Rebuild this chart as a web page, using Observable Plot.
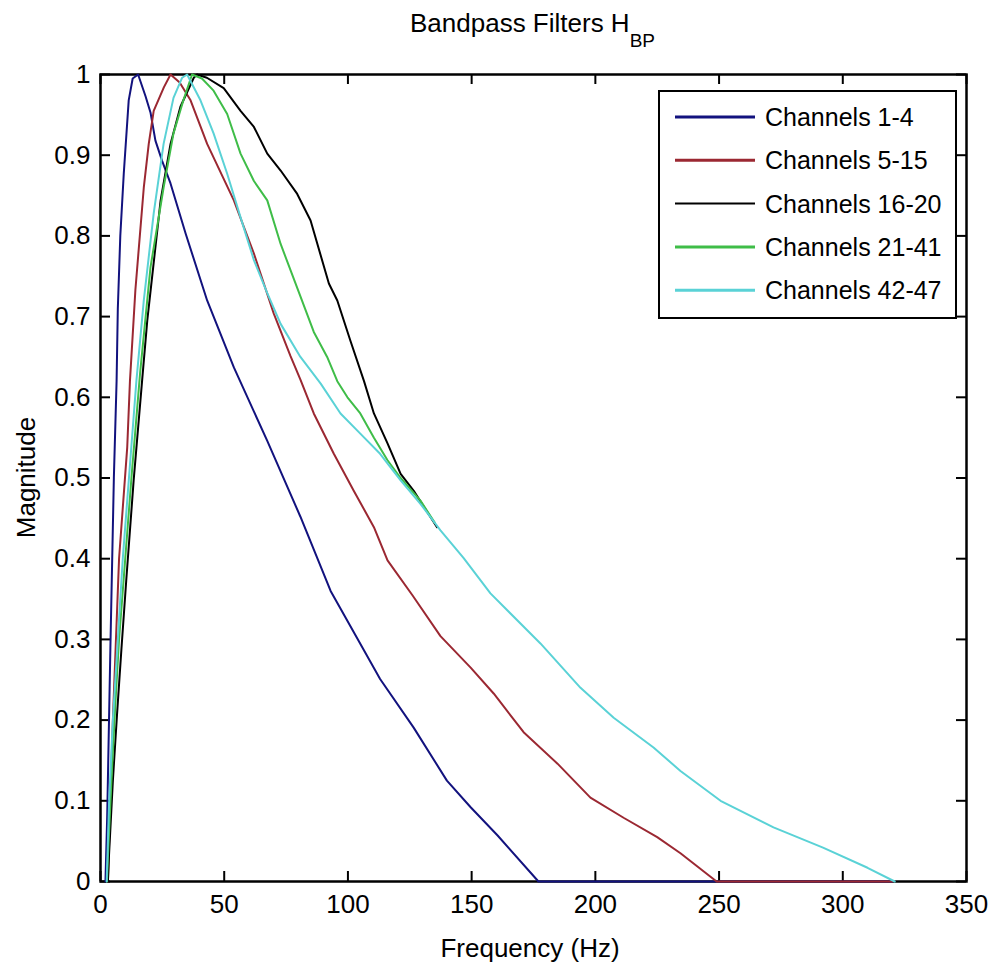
<!DOCTYPE html>
<html>
<head>
<meta charset="utf-8">
<script src="https://cdn.jsdelivr.net/npm/d3@7"></script>
<script src="https://cdn.jsdelivr.net/npm/@observablehq/plot@0.6"></script>
<style>
  html, body { margin: 0; padding: 0; background: #fff; }
  #chart svg { display: block; }
</style>
</head>
<body>
<div id="chart"></div>
<script>
// ---- data ----
const categories = ["Channels 1-4", "Channels 5-15", "Channels 16-20", "Channels 21-41", "Channels 42-47"];
const colors = ["#12127e", "#9b2832", "#000000", "#3fbd48", "#5ad2d6"];

const ch1_4_f = [2, 2.7, 4, 5.4, 6.5, 7, 8, 9.4, 11.4, 13, 15.2, 18.2, 20.2, 22.2, 24.9, 28.3, 34.4, 43.1, 53.9, 67.4, 80.8, 93, 113, 126.5, 140, 149.6, 160.5, 177, 200, 250, 320];
const ch1_4_m = [0, 0.08, 0.29, 0.5, 0.62, 0.71, 0.8, 0.877, 0.968, 0.995, 1, 0.973, 0.953, 0.918, 0.893, 0.865, 0.803, 0.72, 0.637, 0.546, 0.452, 0.36, 0.251, 0.191, 0.125, 0.092, 0.057, 0, 0, 0, 0];

const ch5_15_f = [3, 5, 7.5, 10.8, 11.9, 14.1, 17.5, 19.5, 21.5, 25.6, 28.3, 32, 36.4, 43.1, 53.9, 62, 70, 76.8, 80.8, 86.2, 94.3, 102.4, 110.5, 116, 126, 137.4, 149.6, 158.9, 171, 184.7, 198, 211.4, 225, 234.4, 249, 320];
const ch5_15_m = [0, 0.2, 0.4, 0.538, 0.62, 0.733, 0.86, 0.914, 0.955, 0.984, 1, 0.99, 0.968, 0.914, 0.844, 0.778, 0.704, 0.651, 0.622, 0.58, 0.53, 0.484, 0.439, 0.398, 0.355, 0.304, 0.265, 0.233, 0.185, 0.146, 0.104, 0.079, 0.055, 0.035, 0, 0];

const ch16_20_f = [3, 3.4, 5, 6.7, 8.5, 10.4, 13.4, 16.8, 18.9, 24.3, 28.3, 32.3, 37.7, 39, 43, 49.8, 56.6, 62, 67.4, 72.8, 79.5, 84.9, 92.3, 95.7, 101, 106.5, 110.5, 116, 121.3, 126.6, 136];
const ch16_20_m = [0, 0.03, 0.125, 0.208, 0.29, 0.373, 0.497, 0.62, 0.695, 0.844, 0.914, 0.96, 0.996, 1, 0.996, 0.983, 0.955, 0.935, 0.902, 0.881, 0.852, 0.819, 0.741, 0.72, 0.67, 0.62, 0.58, 0.543, 0.505, 0.484, 0.439];

const ch21_41_f = [2.6, 3, 4.5, 6, 7.5, 9.5, 12.5, 16, 20.2, 25.5, 29.5, 33.5, 37, 41, 45.7, 51.2, 56.6, 62, 67.4, 72.8, 80.8, 86.2, 91.6, 95.7, 99.8, 105, 110.5, 116, 121.3, 129.3, 135];
const ch21_41_m = [0, 0.03, 0.13, 0.22, 0.3, 0.38, 0.5, 0.63, 0.761, 0.86, 0.927, 0.968, 1, 0.995, 0.98, 0.951, 0.902, 0.868, 0.844, 0.79, 0.725, 0.681, 0.65, 0.62, 0.6, 0.58, 0.55, 0.522, 0.5, 0.472, 0.445];

const ch42_47_f = [2.5, 3.5, 5, 7, 9, 11.5, 14.5, 17.5, 21.5, 25.5, 29.5, 33, 35, 40.4, 45.7, 51.2, 56.6, 62, 67.4, 72.8, 80.8, 89, 97, 105, 113, 121.3, 129.3, 137.4, 146.7, 157.6, 177.8, 194, 207.4, 223.5, 234.4, 250.6, 272, 292, 310, 321];
const ch42_47_m = [0, 0.1, 0.2, 0.3, 0.4, 0.5, 0.62, 0.72, 0.828, 0.914, 0.971, 0.996, 1, 0.968, 0.927, 0.877, 0.823, 0.77, 0.729, 0.691, 0.65, 0.617, 0.58, 0.555, 0.53, 0.497, 0.468, 0.435, 0.401, 0.357, 0.295, 0.24, 0.203, 0.166, 0.137, 0.1, 0.067, 0.042, 0.017, 0];

const xTicks = [0, 50, 100, 150, 200, 250, 300, 350];
const yTicks = [0, 0.1, 0.2, 0.3, 0.4, 0.5, 0.6, 0.7, 0.8, 0.9, 1];
const yTickLabels = ["0", "0.1", "0.2", "0.3", "0.4", "0.5", "0.6", "0.7", "0.8", "0.9", "1"];

const titleMain = "Bandpass Filters H";
const titleSub = "BP";
const xLabel = "Frequency (Hz)";
const yLabel = "Magnitude";

// ---- build table ----
const seriesF = [ch1_4_f, ch5_15_f, ch16_20_f, ch21_41_f, ch42_47_f];
const seriesM = [ch1_4_m, ch5_15_m, ch16_20_m, ch21_41_m, ch42_47_m];
const rows = [];
categories.forEach((c, i) => {
  seriesF[i].forEach((f, j) => rows.push({series: c, f, m: seriesM[i][j]}));
});

// ---- layout ----
const W = 992, H = 967;
const mL = 100, mR = 26, mT = 74, mB = 86;
const frameW = W - mL - mR, frameH = H - mT - mB;
const tickLen = 10;
const font = "Liberation Sans, Arial, Helvetica, sans-serif";

const plot = Plot.plot({
  width: W,
  height: H,
  marginLeft: mL,
  marginRight: mR,
  marginTop: mT,
  marginBottom: mB,
  style: {fontFamily: font, fontSize: "26px", background: "#fff", color: "#000"},
  x: {domain: [0, 350], label: null},
  y: {domain: [0, 1], label: null},
  color: {domain: categories, range: colors},
  marks: [
    Plot.frame({stroke: "#000", strokeWidth: 2.5}),
    Plot.tickX(xTicks, {x: d => d, insetTop: frameH - tickLen, stroke: "#000", strokeWidth: 2}),
    Plot.tickX(xTicks, {x: d => d, insetBottom: frameH - tickLen, stroke: "#000", strokeWidth: 2}),
    Plot.tickY(yTicks, {y: d => d, insetRight: frameW - tickLen, stroke: "#000", strokeWidth: 2}),
    Plot.tickY(yTicks, {y: d => d, insetLeft: frameW - tickLen, stroke: "#000", strokeWidth: 2}),
    ...categories.map(c => Plot.line(rows.filter(r => r.series === c), {x: "f", y: "m", stroke: "series", strokeWidth: 2, curve: "linear", strokeLinejoin: "round"})),
    Plot.axisX(xTicks, {tickSize: 0, tickPadding: 13, fontSize: 26, label: null, tickFormat: d => String(d)}),
    Plot.axisY(yTicks, {tickSize: 0, tickPadding: 10, fontSize: 26, label: null, tickFormat: d => yTickLabels[yTicks.indexOf(d)]})
  ]
});

document.getElementById("chart").appendChild(plot);

const svg = d3.select(plot);

// title with subscript
const t = svg.append("text")
  .attr("x", 410).attr("y", 32)
  .attr("text-anchor", "start")
  .attr("font-family", font).attr("font-size", 26).attr("fill", "#000");
t.append("tspan").text(titleMain);
t.append("tspan").attr("dy", 15).attr("font-size", 19).text(titleSub);

// axis labels
svg.append("text")
  .attr("x", mL + frameW / 2 - 3).attr("y", 957)
  .attr("text-anchor", "middle")
  .attr("font-family", font).attr("font-size", 26).attr("fill", "#000")
  .text(xLabel);

svg.append("text")
  .attr("transform", `translate(35,${mT + frameH / 2}) rotate(-90)`)
  .attr("text-anchor", "middle")
  .attr("font-family", font).attr("font-size", 26).attr("fill", "#000")
  .text(yLabel);

// legend
const lg = svg.append("g");
lg.append("rect")
  .attr("x", 659).attr("y", 91).attr("width", 297).attr("height", 227)
  .attr("fill", "#fff").attr("stroke", "#000").attr("stroke-width", 2);
categories.forEach((c, i) => {
  const yy = 117 + i * 43.3;
  lg.append("line")
    .attr("x1", 675).attr("x2", 755).attr("y1", yy).attr("y2", yy)
    .attr("stroke", colors[i]).attr("stroke-width", i === 2 ? 2 : 3);
  lg.append("text")
    .attr("x", 765).attr("y", yy).attr("dy", "0.36em")
    .attr("text-anchor", "start")
    .attr("font-family", font).attr("font-size", 25).attr("fill", "#000")
    .text(c);
});
</script>
</body>
</html>
